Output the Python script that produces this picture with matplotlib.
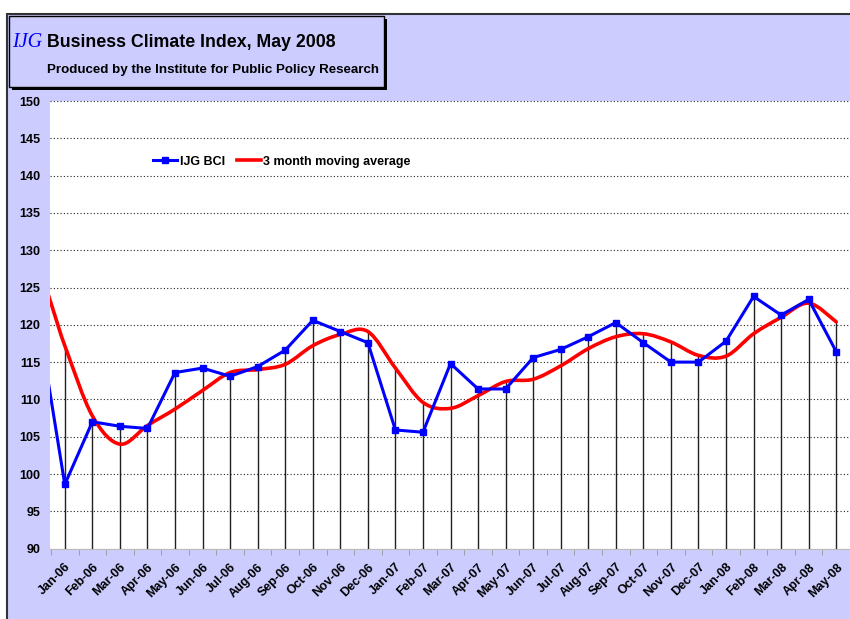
import numpy as np
import matplotlib.pyplot as plt
from matplotlib.path import Path
from matplotlib.patches import PathPatch, Rectangle
from matplotlib.lines import Line2D

months = ['Jan-06', 'Feb-06', 'Mar-06', 'Apr-06', 'May-06', 'Jun-06', 'Jul-06', 'Aug-06',
          'Sep-06', 'Oct-06', 'Nov-06', 'Dec-06', 'Jan-07', 'Feb-07', 'Mar-07', 'Apr-07',
          'May-07', 'Jun-07', 'Jul-07', 'Aug-07', 'Sep-07', 'Oct-07', 'Nov-07', 'Dec-07',
          'Jan-08', 'Feb-08', 'Mar-08', 'Apr-08', 'May-08']
bci = [98.6, 107.0, 106.4, 106.1, 113.6, 114.2, 113.1, 114.4, 116.6, 120.6, 119.1, 117.6,
       105.9, 105.6, 114.8, 111.4, 111.4, 115.6, 116.7, 118.4, 120.3, 117.6, 115.0, 115.0,
       117.8, 123.8, 121.3, 123.4, 116.4]
moving_avg = [117.2, 107.8, 104.0, 106.5, 108.7, 111.2, 113.6, 114.0, 114.7, 117.2, 118.7, 119.1,
              114.2, 109.6, 108.8, 110.5, 112.4, 112.7, 114.5, 116.8, 118.4, 118.8, 117.7, 115.9,
              115.8, 118.8, 121.0, 122.9, 120.4]
# months just left of the visible plot (Dec-05, and Nov-05 for the curve)
bci_before = [121.5]
avg_before = [128.0, 127.5]

lavender = '#CCCCFF'
sans = ['Liberation Sans', 'DejaVu Sans']

W, H = 850, 619
fig = plt.figure(figsize=(W / 100, H / 100), dpi=100, facecolor='white')


def fx(x):
    return x / W


def fy(y):
    return 1 - y / H


# chart area background (cut off at right/bottom)
fig.patches.append(Rectangle((fx(7), -0.1), 1.2, fy(14) + 0.1, transform=fig.transFigure,
                             facecolor=lavender, edgecolor='#333333', lw=1.5, zorder=0))

# title box with shadow
fig.patches.append(Rectangle((fx(12), fy(90)), fx(375), (90 - 19) / H, transform=fig.transFigure,
                             facecolor='black', edgecolor='none', zorder=1))
fig.patches.append(Rectangle((fx(9), fy(87)), fx(375), (87 - 16) / H, transform=fig.transFigure,
                             facecolor=lavender, edgecolor='black', lw=1, zorder=2))
fig.text(fx(12), fy(47), 'IJG', family='Liberation Serif', style='italic', fontsize=14.5,
         color='#0000FF', va='baseline', ha='left', zorder=3)
fig.text(fx(47), fy(47), 'Business Climate Index, May 2008', family=sans, fontweight='bold',
         fontsize=12.8, va='baseline', ha='left', zorder=3)
fig.text(fx(47), fy(73), 'Produced by the Institute for Public Policy Research', family=sans,
         fontweight='bold', fontsize=9.6, va='baseline', ha='left', zorder=3)

# plot area
ax = fig.add_axes([fx(50), fy(548.6), 1 - fx(50), (548.6 - 101) / H])
ax.set_facecolor('white')
ax.set_zorder(2)

x = np.arange(len(months))
xb = np.arange(-len(bci_before), 0)
xa = np.arange(-len(avg_before), 0)

# drop lines
ax.vlines(x, 90, np.maximum(bci, moving_avg), color='#222222', lw=1, zorder=2)

# smoothed moving average (bezier through the points)
ax_x = np.concatenate([xa, x]).astype(float)
ax_y = np.concatenate([avg_before, moving_avg])
verts = [(ax_x[0], ax_y[0])]
codes = [Path.MOVETO]
n = len(ax_x)
for k in range(n - 1):
    p0 = k - 1 if k > 0 else k
    p3 = k + 2 if k + 2 < n else k + 1
    c1 = (ax_x[k] + (ax_x[k + 1] - ax_x[p0]) / 6, ax_y[k] + (ax_y[k + 1] - ax_y[p0]) / 6)
    c2 = (ax_x[k + 1] - (ax_x[p3] - ax_x[k]) / 6, ax_y[k + 1] - (ax_y[p3] - ax_y[k]) / 6)
    verts += [c1, c2, (ax_x[k + 1], ax_y[k + 1])]
    codes += [Path.CURVE4] * 3
ax.add_patch(PathPatch(Path(verts, codes), fill=False, edgecolor='#FF0000', lw=2.6,
                       capstyle='round', joinstyle='round', zorder=4))

# BCI line
ax.plot(np.concatenate([xb, x]), bci_before + bci, color='#0000FF', lw=2.2,
        marker='s', markersize=5, markevery=list(range(len(bci_before), len(bci_before) + len(bci))),
        zorder=5)

ax.set_xlim(-0.537, 28.11)
ax.set_ylim(90, 150)
ax.set_yticks(np.arange(90, 151, 5))
ax.yaxis.grid(True, color='#222222', linestyle=(0, (1, 2)), lw=0.8)
ax.set_axisbelow(True)
for lbl in ax.get_yticklabels():
    lbl.set_family(sans)
    lbl.set_fontweight('bold')
    lbl.set_fontsize(9)
ax.tick_params(axis='y', length=0, pad=7)

ax.set_xticks(x)
ax.set_xticklabels(months, rotation=45, ha='right', rotation_mode='anchor',
                   fontweight='bold', fontsize=9, family=sans)
ax.set_xticks(np.arange(-0.5, len(months)), minor=True)
ax.tick_params(axis='x', which='major', length=0, pad=9)
ax.tick_params(axis='x', which='minor', length=4, color='#999999', direction='out')

for s in ['top', 'right', 'left']:
    ax.spines[s].set_visible(False)
ax.spines['bottom'].set_color('#BBBBBB')

handles = [Line2D([], [], color='#0000FF', lw=2.2, marker='s', markersize=4),
           Line2D([], [], color='#FF0000', lw=2.6)]
ax.legend(handles, ['IJG BCI', '3 month moving average'], loc='center left',
          bbox_to_anchor=(0.115, 0.864), ncol=2, frameon=False, handlelength=1.9,
          handletextpad=0.2, columnspacing=1.0, prop={'family': sans, 'weight': 'bold', 'size': 9})

fig.savefig('out.png', dpi=100, facecolor='white')
